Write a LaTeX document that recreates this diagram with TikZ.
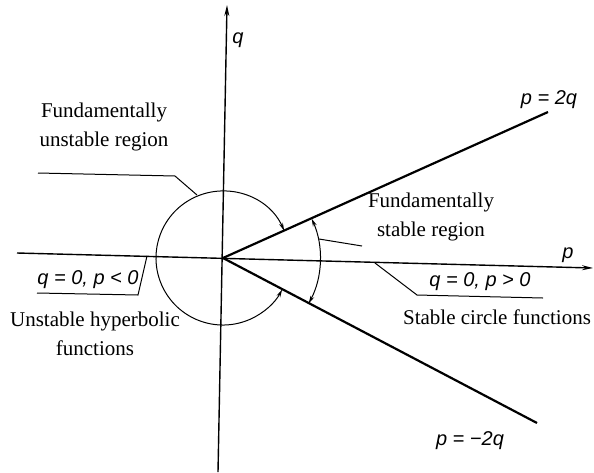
\documentclass[tikz,border=0pt]{standalone}
\usepackage{fontspec}
\setmainfont{Liberation Serif}
\newfontfamily\lblfont{Liberation Sans}
\usetikzlibrary{arrows.meta}
\begin{document}
\begin{tikzpicture}[x=1pt,y=-1pt,
  txt/.style={inner sep=0pt, font=\fontsize{21}{29}\selectfont, align=center},
  mlbl/.style={inner sep=0pt, font=\lblfont\itshape\fontsize{20}{24}\selectfont},
  axis/.style={line width=1.4pt, -{Stealth[length=11pt,width=5pt]}},
  ray/.style={line width=2.2pt},
  thin/.style={line width=1pt},
  arr/.style={line width=1pt, {Stealth[length=8pt,width=4pt]}-{Stealth[length=8pt,width=4pt]}}]
\useasboundingbox (0,0) rectangle (594,472);
% origin and axes
\coordinate (O) at (223,258);
\coordinate (xl) at (17,253);
\coordinate (xr) at (593,268);
\coordinate (yb) at (218,472);
\coordinate (yt) at (227,5);
\draw[axis] (xl) -- (xr);
\draw[axis] (yb) -- (yt);
% rays
\coordinate (up) at (548,112);
\coordinate (dn) at (537,423);
\draw[ray] (O) -- (up);
\draw[ray] (O) -- (dn);
% big arc (unstable region)
\draw[arr] ([shift={(-24:67)}]O) arc[start angle=-24, end angle=-332, radius=67];
% small arc (stable region)
\draw[arr] ([shift={(-24:97)}]O) arc[start angle=-24, end angle=28, radius=97];
% labels
\node[mlbl] (ql) at (238,40) {q};
\node[mlbl] (pl) at (568,255) {p};
\node[mlbl] (p2q) at (549,100) {p = 2q};
\node[mlbl] (pm2q) at (470,441) {p = −2q};
\node[txt] (unst) at (104,127) {Fundamentally\\unstable region};
\node[txt] (stab) at (431,217) {Fundamentally\\stable region};
\node[mlbl] (qpos) at (480,282) {q = 0, p > 0};
\node[mlbl] (qneg) at (88,280) {q = 0, p < 0};
\node[txt] (hyp) at (95,334) {Unstable hyperbolic\\functions};
\node[txt] (circ) at (497,317) {Stable circle functions};
% leaders
\coordinate (u1) at (38,173);
\coordinate (u2) at (175,176);
\coordinate (u3) at (197,195);
\draw[thin] (u1) -- (u2) -- (u3);
\coordinate (s1) at (319,239);
\coordinate (s2) at (362,246);
\draw[thin] (s1) -- (s2);
\coordinate (r1) at (375,263);
\coordinate (r2) at (417,295);
\coordinate (r3) at (543,298);
\draw[thin] (r1) -- (r2) -- (r3);
\coordinate (l1) at (37,293);
\coordinate (l2) at (138,295);
\coordinate (l3) at (147,256);
\draw[thin] (l1) -- (l2) -- (l3);
\end{tikzpicture}
\end{document}
